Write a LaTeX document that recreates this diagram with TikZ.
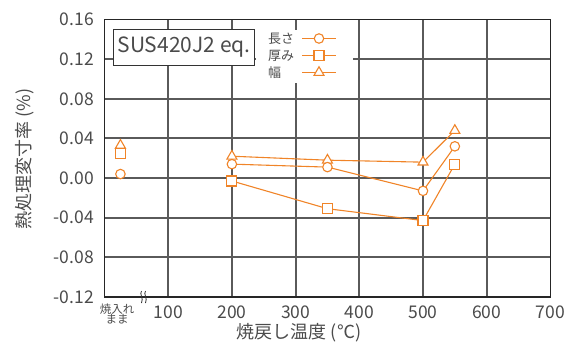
\documentclass[tikz,border=0pt]{standalone}
\usepackage{fontspec}
\setmainfont{Noto Sans CJK JP}
\usetikzlibrary{shapes.geometric}
\pgfdeclarelayer{gridlayer}
\pgfdeclarelayer{linelayer}
\pgfsetlayers{gridlayer,linelayer,main}
\definecolor{org}{RGB}{240,132,40}
\definecolor{txt}{RGB}{75,75,75}
\definecolor{grd}{RGB}{90,90,90}
\tikzset{
  gridln/.style={draw=grd, line width=1.4pt},
  frameln/.style={draw=black!85, line width=1.4pt},
  mk/.style={draw=org, fill=white, line width=1.1pt, inner sep=0pt, outer sep=0pt},
  mcirc/.style={mk, circle, minimum size=9.5pt},
  msq/.style={mk, rectangle, minimum size=10pt},
  mtri/.style={mk, regular polygon, regular polygon sides=3, minimum size=11.5pt},
  series/.style={draw=org, line width=1.1pt},
  ticklab/.style={text=txt, font=\fontsize{17.5}{20}\selectfont, inner sep=0pt},
  legtext/.style={text=txt, font=\fontsize{13}{15}\selectfont, inner sep=0pt, anchor=west},
  smalltxt/.style={text=txt, font=\fontsize{11.5}{12.5}\selectfont, inner sep=0pt, align=center}
}
\newcommand{\DX}[1]{104.5+0.637*(#1)}
\newcommand{\DY}[1]{178-990*(#1)}
\begin{document}
\begin{tikzpicture}[x=1pt,y=-1pt]
\useasboundingbox (0,0) rectangle (564,345);
\begin{pgfonlayer}{gridlayer}
% vertical grid
\draw[gridln] (168,19.5) -- (168,297);
\draw[gridln] (232,19.5) -- (232,297);
\draw[gridln] (296,19.5) -- (296,297);
\draw[gridln] (359,19.5) -- (359,297);
\draw[gridln] (423,19.5) -- (423,297);
\draw[gridln] (487,19.5) -- (487,297);
% horizontal grid
\draw[gridln] (104.5,59) -- (550.4,59);
\draw[gridln] (104.5,99) -- (550.4,99);
\draw[gridln] (104.5,138) -- (550.4,138);
\draw[gridln] (104.5,178) -- (550.4,178);
\draw[gridln] (104.5,218) -- (550.4,218);
\draw[gridln] (104.5,257) -- (550.4,257);
% white areas over grid
\fill[white] (256,30) rectangle (353,83);
\node[draw=black!80, fill=white, line width=1pt, minimum width=141pt, minimum height=36pt, inner sep=0pt, anchor=north west,
      text=txt, font=\fontsize{21}{24}\selectfont] (sus) at (113,29) {SUS420J2 eq.};
% frame
\draw[frameln] (104.5,19.5) rectangle (550.4,297);
% break mark
\draw[black!80, line width=0.8pt] (141.5,291) .. controls (139,294) and (144,298) .. (141.5,303);
\draw[black!80, line width=0.8pt] (145.5,291) .. controls (143,294) and (148,298) .. (145.5,303);
\end{pgfonlayer}
% y tick labels
\node[ticklab, anchor=east] at (94,19.6) {0.16};
\node[ticklab, anchor=east] at (94,59.2) {0.12};
\node[ticklab, anchor=east] at (94,98.8) {0.08};
\node[ticklab, anchor=east] at (94,138.4) {0.04};
\node[ticklab, anchor=east] at (94,178) {0.00};
\node[ticklab, anchor=east] at (94,217.6) {-0.04};
\node[ticklab, anchor=east] at (94,257.2) {-0.08};
\node[ticklab, anchor=east] at (94,296.8) {-0.12};
% x tick labels
\node[ticklab] at (168.2,312) {100};
\node[ticklab] at (231.9,312) {200};
\node[ticklab] at (295.6,312) {300};
\node[ticklab] at (359.3,312) {400};
\node[ticklab] at (423.0,312) {500};
\node[ticklab] at (486.7,312) {600};
\node[ticklab] at (550.4,312) {700};
\node[smalltxt] (yq) at (117,314) {焼入れ\\[-2pt]まま};
% axis titles
\node[text=txt, font=\fontsize{18}{20}\selectfont, rotate=90] (ytitle) at (25,159) {熱処理変寸率 (\%)};
\node[text=txt, font=\fontsize{18}{20}\selectfont] (xtitle) at (299,333) {焼戻し温度 (℃)};
% legend
\node[legtext] (l1) at (268,38.5) {長さ};
\node[legtext] (l2) at (268,55.5) {厚み};
\node[legtext] (l3) at (268,72.5) {幅};
\coordinate (l1a) at (302,38.5); \coordinate (l1b) at (336,38.5);
\coordinate (l2a) at (302,55.5); \coordinate (l2b) at (336,55.5);
\coordinate (l3a) at (302,72.5); \coordinate (l3b) at (336,72.5);
\begin{pgfonlayer}{linelayer}
\draw[series] (l1a) -- (l1b);
\draw[series] (l2a) -- (l2b);
\draw[series] (l3a) -- (l3b);
\end{pgfonlayer}
\node[mcirc] (lc) at (319,38.5) {};
\node[msq] (ls) at (319,55.5) {};
\node[mtri] (lt) at (319,72.5) {};
% data: triangles (幅)
\node[mtri] (t0) at ({\DX{25}},{\DY{0.033}}) {};
\node[mtri] (t1) at ({\DX{200}},{\DY{0.022}}) {};
\node[mtri] (t2) at ({\DX{350}},{\DY{0.018}}) {};
\node[mtri] (t3) at ({\DX{500}},{\DY{0.016}}) {};
\node[mtri] (t4) at ({\DX{550}},{\DY{0.048}}) {};
% squares (厚み)
\node[msq] (s0) at ({\DX{25}},{\DY{0.025}}) {};
\node[msq] (s1) at ({\DX{200}},{\DY{-0.003}}) {};
\node[msq] (s2) at ({\DX{350}},{\DY{-0.031}}) {};
\node[msq] (s3) at ({\DX{500}},{\DY{-0.043}}) {};
\node[msq] (s4) at ({\DX{550}},{\DY{0.014}}) {};
% circles (長さ)
\node[mcirc] (c0) at ({\DX{25}},{\DY{0.004}}) {};
\node[mcirc] (c1) at ({\DX{200}},{\DY{0.014}}) {};
\node[mcirc] (c2) at ({\DX{350}},{\DY{0.011}}) {};
\node[mcirc] (c3) at ({\DX{500}},{\DY{-0.013}}) {};
\node[mcirc] (c4) at ({\DX{550}},{\DY{0.032}}) {};
\begin{pgfonlayer}{linelayer}
\draw[series] (t1) -- (t2) -- (t3) -- (t4);
\draw[series] (s1) -- (s2) -- (s3) -- (s4);
\draw[series] (c1) -- (c2) -- (c3) -- (c4);
\end{pgfonlayer}
\end{tikzpicture}
\end{document}
